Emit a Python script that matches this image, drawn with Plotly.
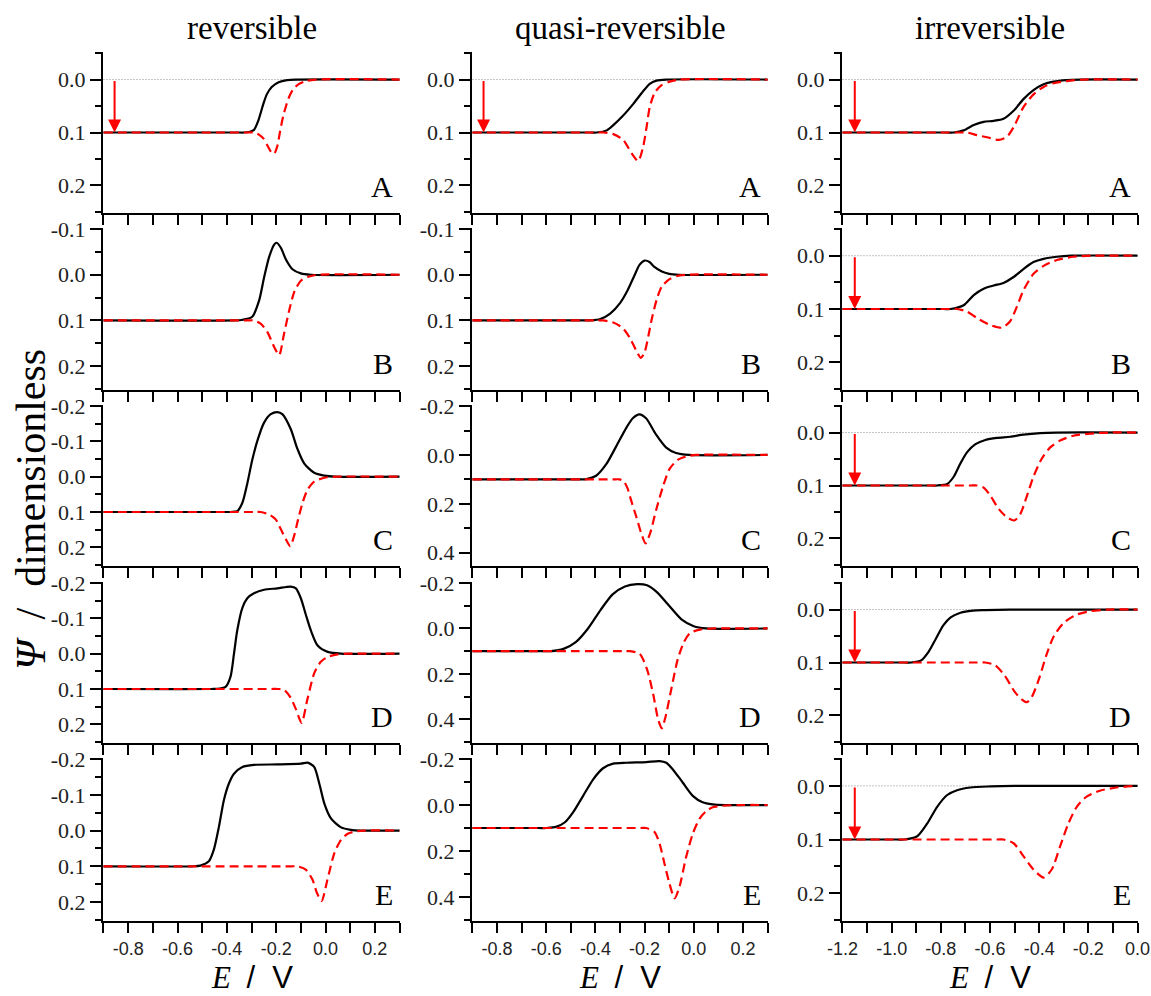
import numpy as np
import plotly.graph_objects as go

# ---------------- data ----------------
col_titles = ["reversible", "quasi-reversible", "irreversible"]
row_letters = ["A", "B", "C", "D", "E"]

x_tick_vals_rq = [-0.8, -0.6, -0.4, -0.2, 0.0, 0.2]
x_tick_text_rq = ["-0.8", "-0.6", "-0.4", "-0.2", "0.0", "0.2"]
x_tick_vals_irr = [-1.2, -1.0, -0.8, -0.6, -0.4, -0.2, 0.0]
x_tick_text_irr = ["-1.2", "-1.0", "-0.8", "-0.6", "-0.4", "-0.2", "0.0"]

y_ticks_a = [0.0, 0.1, 0.2]
y_text_a = ["0.0", "0.1", "0.2"]
y_ticks_b = [-0.1, 0.0, 0.1, 0.2]
y_text_b = ["-0.1", "0.0", "0.1", "0.2"]
y_ticks_c = [-0.2, -0.1, 0.0, 0.1, 0.2]
y_text_c = ["-0.2", "-0.1", "0.0", "0.1", "0.2"]
y_ticks_q = [-0.2, 0.0, 0.2, 0.4]
y_text_q = ["-0.2", "0.0", "0.2", "0.4"]

arrow_x_rq = -0.855
arrow_x_irr = -1.15

# --- reversible ---
rev_A_black_x = [-0.9, -0.36, -0.33, -0.31, -0.29, -0.272, -0.252, -0.238, -0.218, -0.19, -0.156, -0.12, 0.3]
rev_A_black_y = [0.1, 0.1, 0.1, 0.099, 0.095, 0.077, 0.046, 0.028, 0.014, 0.005, 0.001, 0.0, 0.0]
rev_A_red_x = [-0.9, -0.32, -0.29, -0.27, -0.25, -0.235, -0.22, -0.208, -0.195, -0.185, -0.172, -0.16, -0.145, -0.13, -0.11, -0.08, -0.04, 0.3]
rev_A_red_y = [0.1, 0.1, 0.1, 0.104, 0.112, 0.125, 0.137, 0.14, 0.125, 0.1, 0.07, 0.05, 0.03, 0.018, 0.009, 0.003, 0.0, 0.0]

rev_B_black_x = [-0.9, -0.37, -0.34, -0.297, -0.269, -0.249, -0.229, -0.208, -0.198, -0.181, -0.161, -0.134, -0.1, -0.059, 0.3]
rev_B_black_y = [0.1, 0.1, 0.099, 0.092, 0.056, 0.006, -0.038, -0.066, -0.07, -0.059, -0.034, -0.012, -0.003, 0.0, 0.0]
rev_B_red_x = [-0.9, -0.32, -0.29, -0.263, -0.236, -0.208, -0.188, -0.168, -0.147, -0.127, -0.1, -0.066, -0.032, 0.3]
rev_B_red_y = [0.1, 0.1, 0.1, 0.107, 0.125, 0.158, 0.176, 0.129, 0.078, 0.038, 0.013, 0.004, 0.0, 0.0]

rev_C_black_x = [-0.9, -0.42, -0.385, -0.358, -0.337, -0.317, -0.297, -0.276, -0.249, -0.222, -0.195, -0.175, -0.141, -0.114, -0.086, -0.046, -0.005, 0.04, 0.3]
rev_C_black_y = [0.1, 0.1, 0.1, 0.098, 0.074, 0.019, -0.047, -0.102, -0.153, -0.177, -0.183, -0.177, -0.135, -0.079, -0.037, -0.011, -0.003, 0.0, 0.0]
rev_C_red_x = [-0.9, -0.29, -0.263, -0.229, -0.202, -0.181, -0.161, -0.143, -0.127, -0.111, -0.093, -0.073, -0.046, -0.005, 0.049, 0.3]
rev_C_red_y = [0.1, 0.1, 0.1, 0.107, 0.121, 0.149, 0.177, 0.197, 0.167, 0.121, 0.074, 0.037, 0.014, 0.003, 0.0, 0.0]

rev_D_black_x = [-0.9, -0.46, -0.43, -0.405, -0.385, -0.371, -0.358, -0.337, -0.317, -0.29, -0.249, -0.195, -0.141, -0.12, -0.1, -0.08, -0.059, -0.032, 0.009, 0.063, 0.3]
rev_D_black_y = [0.1, 0.1, 0.099, 0.094, 0.065, 0.0, -0.065, -0.13, -0.157, -0.171, -0.181, -0.185, -0.19, -0.185, -0.157, -0.111, -0.065, -0.023, -0.005, 0.0, 0.0]
rev_D_red_x = [-0.9, -0.22, -0.195, -0.168, -0.141, -0.12, -0.097, -0.073, -0.046, -0.019, 0.009, 0.049, 0.09, 0.3]
rev_D_red_y = [0.1, 0.1, 0.1, 0.102, 0.125, 0.157, 0.196, 0.128, 0.056, 0.023, 0.009, 0.002, 0.0, 0.0]

rev_E_black_x = [-0.9, -0.54, -0.507, -0.473, -0.453, -0.432, -0.412, -0.392, -0.371, -0.337, -0.29, -0.195, -0.1, -0.073, -0.046, -0.025, -0.005, 0.022, 0.063, 0.103, 0.144, 0.3]
rev_E_black_y = [0.1, 0.1, 0.098, 0.086, 0.054, -0.011, -0.085, -0.131, -0.159, -0.178, -0.184, -0.185, -0.187, -0.19, -0.178, -0.131, -0.076, -0.034, -0.009, -0.002, 0.0, 0.0]
rev_E_red_x = [-0.9, -0.14, -0.114, -0.08, -0.053, -0.035, -0.016, 0.008, 0.036, 0.063, 0.09, 0.117, 0.158, 0.3]
rev_E_red_y = [0.1, 0.1, 0.1, 0.109, 0.137, 0.174, 0.197, 0.137, 0.063, 0.026, 0.009, 0.003, 0.0, 0.0]

# --- quasi-reversible ---
qr_A_black_x = [-0.9, -0.42, -0.395, -0.354, -0.327, -0.287, -0.246, -0.206, -0.179, -0.152, -0.112, 0.3]
qr_A_black_y = [0.1, 0.1, 0.1, 0.096, 0.086, 0.068, 0.046, 0.022, 0.008, 0.002, 0.0, 0.0]
qr_A_red_x = [-0.9, -0.39, -0.368, -0.327, -0.287, -0.253, -0.226, -0.206, -0.192, -0.179, -0.159, -0.132, -0.098, -0.058, 0.3]
qr_A_red_y = [0.1, 0.1, 0.1, 0.103, 0.114, 0.139, 0.154, 0.127, 0.09, 0.052, 0.025, 0.011, 0.004, 0.0, 0.0]

qr_B_black_x = [-0.9, -0.45, -0.42, -0.38, -0.34, -0.30, -0.27, -0.24, -0.22, -0.20, -0.18, -0.16, -0.13, -0.10, -0.06, 0.3]
qr_B_black_y = [0.1, 0.1, 0.1, 0.097, 0.085, 0.062, 0.035, 0.0, -0.022, -0.031, -0.028, -0.017, -0.007, -0.002, 0.0, 0.0]
qr_B_red_x = [-0.9, -0.40, -0.37, -0.33, -0.29, -0.26, -0.235, -0.215, -0.20, -0.185, -0.17, -0.15, -0.13, -0.10, -0.07, -0.03, 0.3]
qr_B_red_y = [0.1, 0.1, 0.1, 0.104, 0.116, 0.138, 0.165, 0.182, 0.17, 0.135, 0.095, 0.053, 0.026, 0.01, 0.003, 0.0, 0.0]

qr_C_black_x = [-0.9, -0.47, -0.437, -0.397, -0.356, -0.315, -0.275, -0.248, -0.221, -0.194, -0.153, -0.112, -0.072, -0.018, 0.3]
qr_C_black_y = [0.1, 0.1, 0.099, 0.085, 0.038, -0.036, -0.11, -0.15, -0.166, -0.15, -0.083, -0.03, -0.008, 0.0, 0.0]
qr_C_red_x = [-0.9, -0.33, -0.302, -0.285, -0.27, -0.255, -0.234, -0.214, -0.196, -0.177, -0.153, -0.126, -0.099, -0.065, -0.024, 0.009, 0.3]
qr_C_red_y = [0.1, 0.1, 0.1, 0.108, 0.135, 0.185, 0.252, 0.319, 0.362, 0.319, 0.225, 0.132, 0.058, 0.02, 0.005, 0.0, 0.0]

qr_D_black_x = [-0.9, -0.62, -0.58, -0.53, -0.48, -0.43, -0.38, -0.33, -0.28, -0.23, -0.19, -0.15, -0.10, -0.05, 0.0, 0.05, 0.3]
qr_D_black_y = [0.1, 0.1, 0.1, 0.09, 0.06, 0.0, -0.08, -0.15, -0.185, -0.195, -0.19, -0.16, -0.10, -0.04, -0.01, 0.0, 0.0]
qr_D_red_x = [-0.9, -0.29, -0.26, -0.22, -0.19, -0.165, -0.145, -0.13, -0.115, -0.09, -0.065, -0.04, -0.015, 0.025, 0.08, 0.3]
qr_D_red_y = [0.1, 0.1, 0.1, 0.112, 0.18, 0.29, 0.4, 0.44, 0.39, 0.26, 0.135, 0.06, 0.02, 0.005, 0.0, 0.0]

qr_E_black_x = [-0.9, -0.63, -0.599, -0.558, -0.524, -0.491, -0.45, -0.409, -0.369, -0.328, -0.274, -0.193, -0.139, -0.112, -0.085, -0.045, -0.004, 0.036, 0.077, 0.131, 0.3]
qr_E_black_y = [0.1, 0.1, 0.1, 0.094, 0.075, 0.032, -0.04, -0.112, -0.16, -0.18, -0.184, -0.187, -0.191, -0.184, -0.155, -0.098, -0.04, -0.012, -0.003, 0.0, 0.0]
qr_E_red_x = [-0.9, -0.22, -0.193, -0.159, -0.139, -0.119, -0.099, -0.078, -0.058, -0.031, -0.004, 0.023, 0.05, 0.077, 0.118, 0.185, 0.3]
qr_E_red_y = [0.1, 0.1, 0.1, 0.118, 0.168, 0.255, 0.341, 0.406, 0.355, 0.226, 0.125, 0.06, 0.027, 0.01, 0.003, 0.0, 0.0]

# --- irreversible ---
irr_A_black_x = [-1.2, -0.78, -0.747, -0.707, -0.666, -0.626, -0.585, -0.545, -0.504, -0.464, -0.423, -0.382, -0.342, -0.288, -0.234, 0.0]
irr_A_black_y = [0.1, 0.1, 0.1, 0.096, 0.086, 0.08, 0.078, 0.074, 0.059, 0.037, 0.02, 0.009, 0.004, 0.001, 0.0, 0.0]
irr_A_red_x = [-1.2, -0.72, -0.693, -0.653, -0.612, -0.565, -0.531, -0.504, -0.464, -0.423, -0.382, -0.342, -0.288, -0.22, 0.0]
irr_A_red_y = [0.1, 0.1, 0.1, 0.105, 0.109, 0.114, 0.108, 0.09, 0.052, 0.028, 0.014, 0.007, 0.003, 0.0, 0.0]

irr_B_black_x = [-1.2, -0.79, -0.761, -0.707, -0.666, -0.626, -0.585, -0.545, -0.504, -0.464, -0.423, -0.382, -0.328, -0.27, 0.0]
irr_B_black_y = [0.1, 0.1, 0.1, 0.093, 0.074, 0.062, 0.056, 0.051, 0.04, 0.025, 0.012, 0.006, 0.002, 0.0, 0.0]
irr_B_red_x = [-1.2, -0.76, -0.734, -0.693, -0.653, -0.599, -0.551, -0.518, -0.491, -0.464, -0.423, -0.382, -0.328, -0.261, -0.19, 0.0]
irr_B_red_y = [0.1, 0.1, 0.1, 0.105, 0.117, 0.13, 0.135, 0.123, 0.096, 0.065, 0.034, 0.019, 0.008, 0.002, 0.0, 0.0]

irr_C_black_x = [-1.2, -0.84, -0.815, -0.774, -0.747, -0.72, -0.693, -0.659, -0.619, -0.572, -0.518, -0.464, -0.396, -0.33, 0.0]
irr_C_black_y = [0.1, 0.1, 0.1, 0.097, 0.083, 0.058, 0.037, 0.022, 0.014, 0.01, 0.008, 0.004, 0.001, 0.0, 0.0]
irr_C_red_x = [-1.2, -0.68, -0.653, -0.626, -0.599, -0.565, -0.531, -0.501, -0.477, -0.45, -0.423, -0.389, -0.355, -0.315, -0.261, -0.193, -0.12, 0.0]
irr_C_red_y = [0.1, 0.1, 0.1, 0.104, 0.119, 0.144, 0.16, 0.166, 0.154, 0.12, 0.083, 0.049, 0.028, 0.015, 0.006, 0.002, 0.0, 0.0]

irr_D_black_x = [-1.2, -0.95, -0.92, -0.88, -0.85, -0.82, -0.79, -0.76, -0.72, -0.67, -0.62, -0.52, 0.0]
irr_D_black_y = [0.1, 0.1, 0.1, 0.096, 0.08, 0.055, 0.03, 0.015, 0.006, 0.002, 0.001, 0.0, 0.0]
irr_D_red_x = [-1.2, -0.65, -0.62, -0.58, -0.54, -0.5, -0.47, -0.45, -0.43, -0.40, -0.37, -0.34, -0.30, -0.25, -0.19, -0.12, 0.0]
irr_D_red_y = [0.1, 0.1, 0.1, 0.105, 0.125, 0.155, 0.17, 0.175, 0.165, 0.13, 0.085, 0.05, 0.025, 0.01, 0.003, 0.0, 0.0]

irr_E_black_x = [-1.2, -0.98, -0.95, -0.896, -0.855, -0.815, -0.774, -0.734, -0.68, -0.599, -0.5, 0.0]
irr_E_black_y = [0.1, 0.1, 0.1, 0.094, 0.07, 0.039, 0.017, 0.008, 0.003, 0.001, 0.0, 0.0]
irr_E_red_x = [-1.2, -0.57, -0.545, -0.504, -0.464, -0.423, -0.382, -0.349, -0.315, -0.281, -0.247, -0.207, -0.153, -0.085, 0.0]
irr_E_red_y = [0.1, 0.1, 0.1, 0.107, 0.131, 0.156, 0.171, 0.156, 0.113, 0.07, 0.039, 0.02, 0.009, 0.003, 0.0]

# ---------------- assemble ----------------
g = globals()
prefixes = ["rev", "qr", "irr"]

W, H = 1151, 996
col_px = [(103, 400), (472, 768), (842, 1138)]
row_px = [(52, 213), (228, 390), (405, 566), (582, 743), (758, 921)]
x_ranges = [(-0.9, 0.3), (-0.9, 0.3), (-1.2, 0.0)]

y_cfg = {
    0: [((-0.05, 0.25), y_ticks_a, y_text_a, 0.05), ((-0.1, 0.25), y_ticks_b, y_text_b, 0.05),
        ((-0.2, 0.25), y_ticks_c, y_text_c, 0.05), ((-0.2, 0.25), y_ticks_c, y_text_c, 0.05),
        ((-0.2, 0.25), y_ticks_c, y_text_c, 0.05)],
    1: [((-0.05, 0.25), y_ticks_a, y_text_a, 0.05), ((-0.1, 0.25), y_ticks_b, y_text_b, 0.05),
        ((-0.2, 0.45), y_ticks_q, y_text_q, 0.1), ((-0.2, 0.5), y_ticks_q, y_text_q, 0.1),
        ((-0.2, 0.5), y_ticks_q, y_text_q, 0.1)],
    2: [((-0.05, 0.25), y_ticks_a, y_text_a, 0.05)] * 5,
}

def px_x(p):
    return p / W

def px_y(p):
    return 1 - p / H

fig = go.Figure()
annotations = []
layout = {}
SERIF = "Liberation Serif"
SANS = "Liberation Sans"

for r in range(5):
    for c in range(3):
        n = r * 3 + c + 1
        xs = "" if n == 1 else str(n)
        xref, yref = "x" + xs, "y" + xs
        xr = x_ranges[c]
        (y0, y1), yt, ytt, ymin = y_cfg[c][r]
        has_arrow = (c == 2) or (r == 0)

        if has_arrow:
            fig.add_trace(go.Scatter(x=list(xr), y=[0, 0], mode="lines", xaxis=xref, yaxis=yref,
                                     line=dict(color="#888888", width=1, dash="1px,2px"),
                                     hoverinfo="skip", showlegend=False))
        pre = prefixes[c] + "_" + row_letters[r]
        fig.add_trace(go.Scatter(x=g[pre + "_black_x"], y=g[pre + "_black_y"], mode="lines",
                                 xaxis=xref, yaxis=yref,
                                 line=dict(color="black", width=2.2, shape="spline", smoothing=0.7),
                                 showlegend=False))
        fig.add_trace(go.Scatter(x=g[pre + "_red_x"], y=g[pre + "_red_y"], mode="lines",
                                 xaxis=xref, yaxis=yref,
                                 line=dict(color="#ff0000", width=2.2, dash="9px,5px", shape="spline", smoothing=0.7),
                                 showlegend=False))

        bottom_row = (r == 4)
        xtv = x_tick_vals_irr if c == 2 else x_tick_vals_rq
        xtt = x_tick_text_irr if c == 2 else x_tick_text_rq
        eps = 0.002
        layout["xaxis" + xs] = dict(
            domain=[px_x(col_px[c][0]), px_x(col_px[c][1])], anchor=yref, automargin=False,
            range=[xr[0] - eps, xr[1] + eps], showline=True, linecolor="black", linewidth=2,
            mirror=False, showgrid=False, zeroline=False,
            ticks="outside", ticklen=10, tickwidth=2, tickcolor="black",
            tickmode="array", tickvals=xtv, ticktext=xtt,
            showticklabels=bottom_row,
            tickfont=dict(family=SANS, size=18, color="#222222"),
            minor=dict(tickmode="array", tickvals=list(np.round(np.arange(xr[0], xr[1] + 1e-9, 0.1), 2)),
                       ticks="outside", ticklen=10, tickwidth=2, tickcolor="black", showgrid=False),
        )
        epsy = 0.002 * (y1 - y0) / 0.3
        layout["yaxis" + xs] = dict(
            domain=[px_y(row_px[r][1]), px_y(row_px[r][0])], anchor=xref, automargin=False,
            range=[y1 + epsy, y0 - epsy], showline=True, linecolor="black", linewidth=2,
            mirror=False, showgrid=False, zeroline=False,
            ticks="outside", ticklen=11, tickwidth=2, tickcolor="black",
            tickmode="array", tickvals=yt, ticktext=ytt,
            tickfont=dict(family=SERIF, size=22, color="#222222"),
            minor=dict(tickmode="array", tickvals=list(np.round(np.arange(y0, y1 + 1e-9, ymin), 3)),
                       ticks="outside", ticklen=6, tickwidth=2, tickcolor="black", showgrid=False),
        )

        # panel letter
        annotations.append(dict(text=row_letters[r], xref="paper", yref="paper",
                                x=px_x(col_px[c][1] - 5), y=px_y(row_px[r][1] - 8),
                                xanchor="right", yanchor="bottom", showarrow=False,
                                font=dict(family=SERIF, size=30, color="black")))
        if has_arrow:
            ax_ = arrow_x_irr if c == 2 else arrow_x_rq
            annotations.append(dict(x=ax_, y=0.1, ax=ax_, ay=0.0, xref=xref, yref=yref,
                                    axref=xref, ayref=yref, showarrow=True, text="",
                                    arrowhead=2, arrowsize=1.3, arrowwidth=2, arrowcolor="#ff0000",
                                    standoff=0, startstandoff=0))

for c in range(3):
    cx = (col_px[c][0] + col_px[c][1]) / 2
    annotations.append(dict(text=col_titles[c], xref="paper", yref="paper", x=px_x(cx), y=px_y(28),
                            xanchor="center", yanchor="middle", showarrow=False,
                            font=dict(family=SERIF, size=33, color="black")))
    annotations.append(dict(text="<i>E</i>\u00a0\u00a0<span style='font-family:Liberation Sans'>/\u00a0\u00a0V</span>",
                            xref="paper", yref="paper", x=px_x(cx), y=px_y(977),
                            xanchor="center", yanchor="middle", showarrow=False,
                            font=dict(family=SERIF, size=31, color="black")))

annotations.append(dict(text="<i>Ψ</i>\u00a0\u00a0/\u00a0\u00a0dimensionless", xref="paper", yref="paper",
                        x=px_x(31), y=px_y(510), xanchor="center", yanchor="middle",
                        textangle=-90, showarrow=False,
                        font=dict(family=SERIF, size=42, color="black")))

fig.update_layout(width=W, height=H, margin=dict(l=0, r=0, t=0, b=0, autoexpand=False),
                  paper_bgcolor="white", plot_bgcolor="white",
                  font=dict(family=SERIF, color="black"),
                  annotations=annotations, showlegend=False, **layout)

fig.write_html("out.html",
               config={"displayModeBar": False, "staticPlot": True},
               post_script="document.body.style.margin='0';document.body.style.overflow='hidden';")
